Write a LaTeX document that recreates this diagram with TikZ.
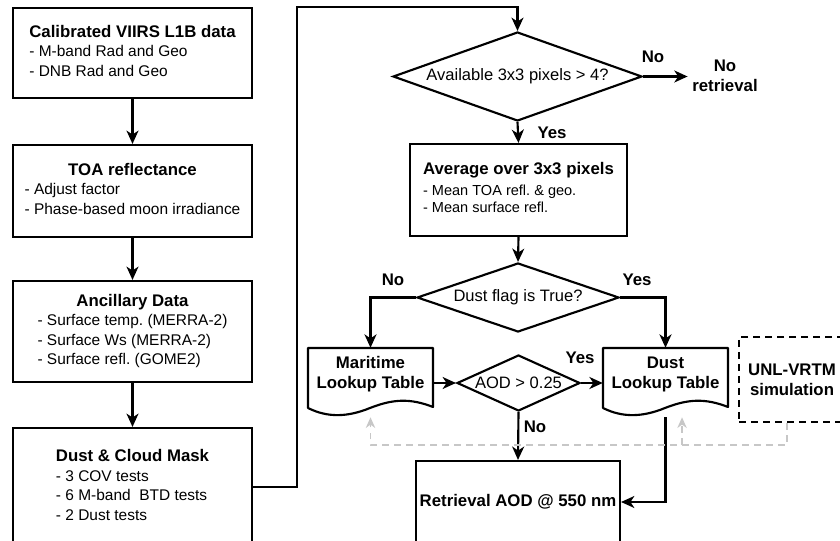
\documentclass[tikz,border=0pt]{standalone}
\usepackage{fontspec}
\setmainfont{Liberation Sans}
\usetikzlibrary{shapes.geometric,arrows.meta}
\begin{document}
\begin{tikzpicture}[x=0.75pt,y=-0.75pt,
  every node/.style={font=\fontsize{11.6}{14.6}\selectfont},
  box/.style={draw,line width=1.6pt,rectangle,inner sep=0pt},
  dia/.style={draw,line width=1.6pt,diamond,inner sep=0pt,font=\fontsize{12.4}{14}\selectfont},
  lbl/.style={font=\fontsize{12.6}{15}\selectfont\bfseries},
  arr/.style={line width=1.6pt,-{Stealth[length=10pt,width=9pt,inset=3pt]}},
  ln/.style={line width=1.6pt,line join=round},
  gr/.style={line width=1.3pt,draw=black!22,dash pattern=on 5pt off 4pt,-{Stealth[length=8pt,width=7pt,inset=2.5pt]}},
]
\useasboundingbox (0,0) rectangle (840,541);
\newcommand\ttl[1]{\multicolumn{1}{@{}c@{}}{\fontsize{12.6}{15}\selectfont\bfseries #1}}

% left column
\node[box,minimum width=179.25pt,minimum height=67.5pt] (b1) at (132.5,53)
  {\begin{tabular}{@{}l@{}}\ttl{Calibrated VIIRS L1B data}\\- M-band Rad and Geo\\- DNB Rad and Geo\end{tabular}};
\node[box,minimum width=179.25pt,minimum height=69pt] (b2) at (132.5,191)
  {\begin{tabular}{@{}l@{}}\ttl{TOA reflectance}\\- Adjust factor\\- Phase-based moon irradiance\end{tabular}};
\node[box,minimum width=179.25pt,minimum height=75.75pt] (b3) at (132.5,331.5)
  {\begin{tabular}{@{}l@{}}\ttl{Ancillary Data}\\- Surface temp.\ (MERRA-2)\\- Surface Ws (MERRA-2)\\- Surface refl.\ (GOME2)\end{tabular}};
\node[box,minimum width=179.25pt,minimum height=88.5pt] (b4) at (132.5,487)
  {\begin{tabular}{@{}l@{}}\ttl{Dust \& Cloud Mask}\\- 3 COV tests\\- 6 M-band~ BTD tests\\- 2 Dust tests\end{tabular}};

% right column
\node[dia,aspect=2.8,minimum width=186.75pt,minimum height=66.75pt] (d1) at (517.5,76.5) {Available 3x3 pixels > 4?};
\node[lbl,align=center] (noret) at (725,76) {No\\retrieval};
\node[box,minimum width=162.75pt,minimum height=69pt,font=\fontsize{10.9}{12.75}\selectfont] (b5) at (518.5,190)
  {\begin{tabular}{@{}l@{}}\ttl{Average over 3x3 pixels}\\[3pt]- Mean TOA refl.\ \& geo.\\- Mean surface refl.\end{tabular}};
\node[dia,aspect=2.93,minimum width=151.5pt,minimum height=51.75pt] (d2) at (518,297.5) {Dust flag is True?};
\node[dia,aspect=2.2,minimum width=92.25pt,minimum height=42pt] (d3) at (518.5,383) {AOD > 0.25};

\node[rectangle,inner sep=0pt,minimum width=93.75pt,minimum height=39pt,lbl,align=center] (mar) at (370.5,374) {Maritime\\Lookup Table};
\node[rectangle,inner sep=0pt,minimum width=93.75pt,minimum height=39pt,lbl,align=center] (dl) at (665.5,374) {Dust\\Lookup Table};
\draw[ln] (308,348) -- (433,348) -- (433,407) .. controls (410,398) and (393,399) .. (370,408) .. controls (348,417) and (328,418) .. (308,408) -- cycle;
\draw[ln] (603,348) -- (728,348) -- (728,407) .. controls (705,398) and (688,399) .. (665,408) .. controls (643,417) and (623,418) .. (603,408) -- cycle;

\node[box,dash pattern=on 5pt off 4pt,minimum width=79.5pt,minimum height=63.75pt,lbl,align=center] (unl) at (792,379.5) {UNL-VRTM\\simulation};
\node[box,minimum width=153pt,minimum height=61.5pt,lbl] (ret) at (518,502) {Retrieval AOD @ 550 nm};

% labels
\node[lbl] (l1) at (653,57) {No};
\node[lbl] (l2) at (552,133) {Yes};
\node[lbl] (l3) at (393,280) {No};
\node[lbl] (l4) at (637,280) {Yes};
\node[lbl] (l5) at (580,358) {Yes};
\node[lbl] (l6) at (535,427) {No};

% connectors
\draw[arr] (b1.south) -- (b2.north);
\draw[arr] (b2.south) -- (b3.north);
\draw[arr] (b3.south) -- (b4.north);
\coordinate (tc) at (297,7);
\draw[arr] (b4.east) -| (tc) -| (d1.north);
\draw[arr] (d1.east) -- (noret.west |- d1.east);
\draw[arr] (d1.south) -- (b5.north);
\draw[arr] (b5.south) -- (d2.north);
\draw[arr] (d2.west) -| (mar.north);
\draw[arr] (d2.east) -| (dl.north);
\draw[arr] (mar.east |- d3.west) -- (d3.west);
\draw[arr] (d3.east) -- (dl.west |- d3.east);
\draw[arr] (d3.south) -- (ret.north);
\draw[arr] ([yshift=-12.75pt]dl.south) |- (ret.east);

% gray dashed
\coordinate (gy) at (0,445);
\draw[gr] ([xshift=-3.75pt]unl.south) |- (mar.south |- gy) -- ([yshift=-12.75pt]mar.south);
\draw[gr] ([xshift=12.4pt]dl.south |- gy) -- ([xshift=12.4pt,yshift=-12.75pt]dl.south);
\end{tikzpicture}
\end{document}
